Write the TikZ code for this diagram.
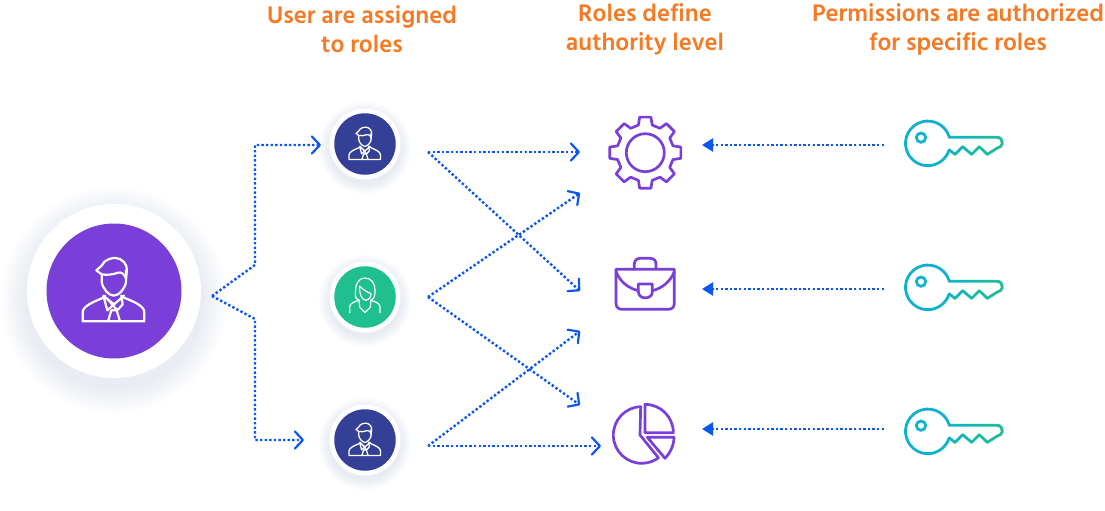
\documentclass[tikz,border=0pt]{standalone}
\usepackage{fontspec}
\setmainfont{Hind Siliguri}[UprightFont=* SemiBold]
\usetikzlibrary{arrows.meta}
\definecolor{ttl}{HTML}{F47A25}
\definecolor{flow}{HTML}{0B57F2}
\definecolor{pur}{HTML}{7A3FD8}
\definecolor{navy}{HTML}{343F96}
\definecolor{grn}{HTML}{1FBF90}
\definecolor{shd}{HTML}{B9C6D8}
\definecolor{keya}{HTML}{10B1CF}
\definecolor{keyb}{HTML}{1DBD97}
\tikzset{
  ttlnode/.style={text=ttl,font=\fontsize{24.6}{29}\selectfont,align=center,anchor=center,inner sep=0pt},
  bigdisc/.style={circle,fill=pur,minimum size=135pt,inner sep=0pt},
  smalldisc/.style={circle,minimum size=61.5pt,inner sep=0pt},
  flowline/.style={draw=flow,line width=2.4pt,dash pattern=on 2.4pt off 2.2pt},
  chev/.style={flowline,-{Straight Barb[length=8pt,width=17pt,line width=2.2pt,round]}},
  solidtip/.style={flowline,-{Triangle[length=11pt,width=13pt]}},
  iconline/.style={draw=white,line width=#1,line join=round,line cap=round,fill=none},
  purline/.style={draw=pur,line width=2.7pt,line join=round,line cap=round,fill=none},
  keyline/.style={line width=2.8pt,line join=round,line cap=round}
}
\newcommand\halo[4]{% x y whiteR spread
  \foreach \i in {0,1,...,11}{
    \fill[shd,opacity=0.03] (#1,#2+#4*0.35) circle ({#3+#4-\i*#4/12});
  }
  \fill[white] (#1,#2) circle (#3);
}
\newcommand\manicon[4]{%
\begin{scope}[shift={(#1,#2)},scale=#3/3]
  \draw[iconline=#4] (-94,91) -- (91,91) -- (91,64) .. controls (91,45) and (60,32) .. (30,20) -- (22,14) (-94,91) -- (-94,64) .. controls (-94,45) and (-60,32) .. (-32,20) -- (-26,14);
  \draw[iconline=#4] (-37,-50) -- (-37,-28) .. controls (-35,-8) and (-15,14) .. (-1,14) .. controls (15,14) and (34,-8) .. (36,-28) -- (36,-62);
  \draw[iconline=#4] (-37,-50) -- (-53,-62) -- (-37,-76) .. controls (-30,-95) and (-5,-100) .. (5,-99) .. controls (25,-98) and (40,-80) .. (39,-62) -- (36,-38) .. controls (32,-50) and (22,-58) .. (12,-55) .. controls (-5,-48) and (-25,-48) .. (-37,-50);
  \draw[iconline=#4] (-32,14) -- (-20,58) -- (30,14) (30,14) -- (-0,40) -- (-32,14) (22,14) -- (26,40) -- (10,58) -- (-20,24);
  \draw[iconline=#4] (-8,58) -- (-18,91) (8,58) -- (18,91) (-8,58) -- (8,58);
\end{scope}}
\newcommand\womanicon[4]{%
\begin{scope}[shift={(#1,#2)},scale=#3/3]
  \draw[iconline=#4] (-46,47) -- (-46,28) .. controls (-44,18) and (-30,14) .. (-18,10) (45,47) -- (45,28) .. controls (43,18) and (30,14) .. (18,10);
  \draw[iconline=#4] (-18,8) -- (-16,30) -- (0,47) -- (16,30) -- (18,8);
  \draw[iconline=#4] (-20,8) .. controls (-30,5) and (-30,-5) .. (-28,-20) .. controls (-28,-45) and (-15,-57) .. (0,-57) .. controls (20,-57) and (30,-40) .. (30,-20) .. controls (30,-5) and (28,5) .. (20,8);
  \draw[iconline=#4] (-16,-32) .. controls (-18,-10) and (-10,8) .. (2,10) .. controls (12,8) and (18,0) .. (18,-10) .. controls (8,-14) and (-5,-22) .. (-16,-32);
\end{scope}}
\newcommand\keyicon[3]{%
\begin{scope}[shift={(#1,#2)},scale=1/3]
  \draw[keyline,draw=keya] (178,82) arc[start angle=-15.7,end angle=-343.4,radius=67];
  \draw[keyline,draw=keya] (93,83) circle (14);
  \draw[keyline,draw=keya!75!keyb] (178,82) -- (230,82) (178,120) -- (195,133);
  \draw[keyline,draw=keya!50!keyb] (230,82) -- (280,82) (195,133) -- (218,110) -- (245,133);
  \draw[keyline,draw=keya!20!keyb] (280,82) -- (322,82) (245,133) -- (268,110) -- (292,133);
  \draw[keyline,draw=keyb] (322,82) .. controls (332,82) and (338,92) .. (337,100) .. controls (336,108) and (330,112) .. (322,114) -- (292,133);
\end{scope}}
\begin{document}
\begin{tikzpicture}[x=1pt,y=-1pt]
\useasboundingbox (0,0) rectangle (1105,511);
% titles
\node[ttlnode] (t1) at (362,29.5) {User are assigned\\to roles};
\node[ttlnode] (t2) at (645,29.5) {Roles define\\authority level};
\node[ttlnode] (t3) at (958,29.5) {Permissions are authorized\\for specific roles};
% discs
\halo{114}{291}{87}{26}
\halo{365}{144}{35.5}{11}
\halo{365}{297}{35.5}{11}
\halo{365}{440}{35.5}{11}
\node[bigdisc] (user) at (114,291) {};
\node[smalldisc,fill=navy] (r1) at (365,144) {};
\node[smalldisc,fill=grn] (r2) at (365,297) {};
\node[smalldisc,fill=navy] (r3) at (365,440) {};
\manicon{114}{291}{1}{2.2pt}
\manicon{365}{144}{0.51}{1.3pt}
\womanicon{365}{297}{1}{1.2pt}
\manicon{365}{440}{0.51}{1.3pt}
% named ends
\coordinate (uo) at (212,296);
\coordinate (a1) at (255,265);
\coordinate (a2) at (255,145);
\coordinate (a3) at (321,145);
\coordinate (b1) at (255,319);
\coordinate (b2) at (255,440);
\coordinate (b3) at (304,440);
\coordinate (r1o) at (428,152);
\coordinate (r2o) at (428,297);
\coordinate (r3o) at (428,446);
\coordinate (g1) at (580,152);
\coordinate (g2) at (580,193);
\coordinate (c1) at (580,291);
\coordinate (c2) at (580,331);
\coordinate (p1) at (580,405);
\coordinate (p2) at (601,446);
\coordinate (k1) at (884,145);
\coordinate (k2) at (884,289);
\coordinate (k3) at (884,429);
\coordinate (gi) at (702,145);
\coordinate (ci) at (702,289);
\coordinate (pi) at (702,429);
% connectors
\draw[chev] (uo) -- (a1) -- (a2) -- (a3);
\draw[chev] (uo) -- (b1) -- (b2) -- (b3);
\draw[chev] (r1o) -- (g1);
\draw[chev] (r1o) -- (c1);
\draw[chev] (r2o) -- (g2);
\draw[chev] (r2o) -- (p1);
\draw[chev] (r3o) -- (c2);
\draw[chev] (r3o) -- (p2);
\draw[solidtip] (k1) -- (gi);
\draw[solidtip] (k2) -- (ci);
\draw[solidtip] (k3) -- (pi);
% gear
\begin{scope}[shift={(645.3,152.7)}]
  \draw[purline] (-14:28.5) \foreach \a in {0,45,...,315}{ -- (\a-14:28.5) -- (\a-9:36) -- (\a+9:36) -- (\a+14:28.5)} -- cycle;
  \draw[purline] (0,0) circle (19);
\end{scope}
% briefcase
\begin{scope}[shift={(590,100)},scale=1/3]
  \draw[purline] (78,508) -- (253,508) -- (253,610) .. controls (253,622) and (245,628) .. (235,628) -- (96,628) .. controls (86,628) and (78,622) .. (78,610) -- cycle;
  \draw[purline] (133,508) -- (133,492) .. controls (133,482) and (140,475) .. (150,475) -- (181,475) .. controls (191,475) and (198,482) .. (198,492) -- (198,508);
  \draw[purline] (78,515) .. controls (90,545) and (115,565) .. (145,572) (253,515) .. controls (241,545) and (216,565) .. (187,572);
  \draw[purline] (145,552) -- (187,552) -- (187,575) .. controls (187,600) and (145,600) .. (145,575) -- cycle;
\end{scope}
% pie
\begin{scope}[shift={(590,390)},scale=1/3]
  \draw[purline] (152,50) arc[start angle=-92,end angle=-306.4,radius=85] -- (150,135) -- cycle;
  \draw[purline] (165,43) arc[start angle=-90,end angle=0,radius=85] -- (165,128) -- cycle;
  \draw[purline] (172,142) -- (252,142) .. controls (252,165) and (240,190) .. (225,205) -- cycle;
\end{scope}
% keys
\keyicon{890}{110}{}
\keyicon{890}{254}{}
\keyicon{890}{398}{}
\end{tikzpicture}
\end{document}
